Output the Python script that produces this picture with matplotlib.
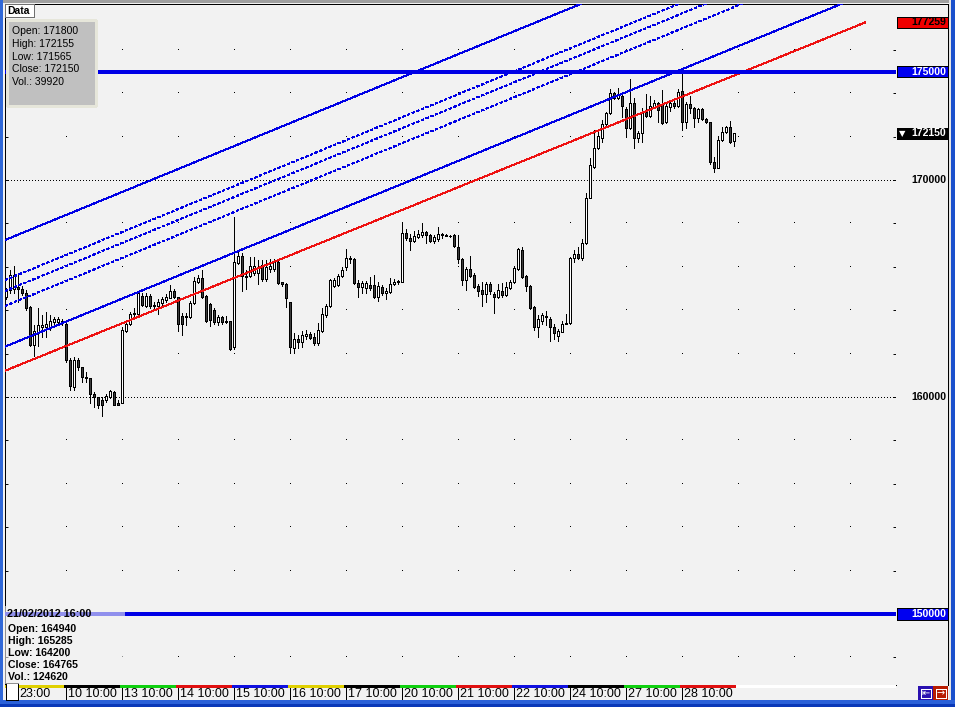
import matplotlib
matplotlib.use("Agg")
import matplotlib.pyplot as plt
from matplotlib.patches import Rectangle
import numpy as np

plt.rcParams['font.family'] = ['Liberation Sans', 'DejaVu Sans']
plt.rcParams['lines.antialiased'] = False
plt.rcParams['patch.antialiased'] = False

W, H = 955, 707
LW = 0.7  # one screen pixel

# hourly candles 9 Feb 2012 .. 28 Feb 2012 (14 bars per session, 10:00-23:00)
opens = [164610, 164930, 164980, 165070, 164980, 164790, 164150, 162400, 163000, 163230,
         163230, 163230, 163460, 163460, 163500, 163360, 161710, 160460, 161710, 161380,
         160920, 160880, 160140, 160000, 159860, 159860, 160000, 160230, 159720, 159720,
         163040, 163360, 163830, 163830, 164650, 164190, 164650, 164240, 164190, 164330,
         164470, 164560, 164890, 164610, 163730, 163690, 163690, 164330, 165300, 165480,
         164650, 164290, 164010, 163460, 163690, 163500, 163500, 162300, 166180, 166500,
         165580, 165580, 165710, 165710, 166080, 165440, 165900, 165900, 166220, 165300,
         165210, 164380, 162260, 162670, 162530, 162810, 162900, 162770, 162490, 163040,
         163780, 164190, 165120, 165160, 165580, 165990, 166360, 166360, 165250, 165070,
         165020, 165160, 165160, 164610, 165070, 164790, 164840, 165210, 165300, 165300,
         167560, 167330, 167190, 167370, 167470, 167600, 167470, 167190, 167280, 167510,
         167470, 167420, 167470, 166910, 166360, 165390, 165900, 165620, 165120, 164940,
         164750, 165210, 164750, 164610, 164890, 164700, 165020, 165300, 165900, 166770,
         165580, 165120, 164150, 163230, 163500, 163730, 163600, 163230, 162810, 163000,
         163410, 163410, 166410, 166590, 166410, 167100, 169170, 170600, 171470, 171940,
         172580, 173090, 174010, 173780, 173870, 173270, 172400, 173550, 171940, 172170,
         173130, 172950, 173360, 173550, 173500, 172670, 173360, 173550, 173410, 174100,
         172670, 173500, 173320, 172860, 173270, 172810, 172670, 170830, 170550, 171840,
         172210, 172440, 171800]
highs = [165020, 165850, 166040, 165620, 165120, 164930, 164190, 163320, 164100, 163780,
         163920, 163780, 163690, 163690, 163600, 163410, 161800, 161850, 161800, 161380,
         161150, 160880, 160230, 160000, 160000, 160140, 160320, 160280, 159860, 163230,
         163500, 163920, 164100, 164840, 164790, 164790, 164750, 164380, 164520, 164610,
         164750, 165160, 164980, 164610, 163870, 163870, 164420, 165530, 165620, 165850,
         164700, 164330, 164100, 163780, 163730, 163730, 163500, 168300, 166680, 166640,
         165850, 166450, 166450, 166310, 166310, 166310, 166360, 166360, 166270, 165300,
         165250, 164380, 162950, 162860, 163040, 163090, 163000, 162950, 163410, 164100,
         164290, 165440, 165480, 165670, 165990, 166820, 166500, 166410, 165390, 165350,
         165350, 165530, 165620, 165300, 165160, 165020, 165480, 165440, 165390, 168020,
         167740, 167510, 167650, 167700, 168000, 167650, 167510, 167470, 167830, 167560,
         167510, 167470, 167510, 167470, 166410, 165990, 166500, 165710, 165210, 165285,
         165300, 165300, 164840, 165210, 165250, 165300, 165390, 165990, 166870, 166910,
         165620, 165160, 164190, 163780, 163870, 163960, 163690, 163360, 163130, 163500,
         163830, 166450, 166770, 166910, 167280, 169400, 171010, 172300, 172210, 172770,
         173130, 174190, 174050, 174240, 174050, 173360, 174650, 173780, 172260, 173320,
         173960, 173870, 173690, 173600, 174150, 173600, 173690, 173780, 174190, 175070,
         173600, 173870, 173360, 173320, 173320, 172860, 172670, 171060, 172030, 172440,
         172490, 172720, 172155]
lows = [164520, 164790, 164790, 164380, 164700, 164010, 162350, 161890, 162350, 162770,
        162770, 163090, 163270, 163360, 163320, 161610, 160320, 160320, 161250, 160690,
        160690, 159720, 159540, 159490, 159130, 159770, 159950, 159630, 159630, 159720,
        163000, 163320, 163690, 163690, 164190, 164150, 164100, 164100, 163830, 164240,
        164380, 164560, 164560, 163040, 162860, 163320, 163640, 164290, 165250, 164560,
        163460, 163270, 163360, 163320, 163360, 163410, 162170, 162210, 166130, 164890,
        164980, 165530, 165620, 165210, 165350, 165350, 165760, 165800, 165210, 165120,
        164150, 162070, 162030, 162260, 162300, 162670, 162670, 162400, 162400, 163000,
        163690, 164150, 165070, 165120, 165530, 165850, 166180, 165210, 164610, 164790,
        164790, 164930, 164560, 164420, 164700, 164520, 164790, 165160, 165210, 165300,
        167240, 166770, 167140, 167330, 167370, 167100, 167140, 167100, 167190, 167330,
        167420, 167370, 166910, 166180, 165160, 164930, 165530, 165020, 164660, 164200,
        164380, 164750, 163870, 164560, 164610, 164650, 164980, 165250, 165850, 165480,
        164890, 164060, 163090, 162770, 163360, 163320, 162580, 162670, 162580, 163000,
        163360, 163360, 166220, 166360, 166310, 167050, 169170, 170550, 171430, 171750,
        172530, 173040, 173730, 173730, 172900, 171980, 172350, 171470, 171750, 171750,
        172900, 172900, 173320, 172670, 172580, 172630, 173160, 173320, 173360, 172300,
        172400, 173090, 172440, 172670, 172760, 172630, 170740, 170370, 170550, 171800,
        172170, 171710, 171565]
closes = [164930, 165620, 165620, 164980, 164790, 164100, 162400, 163040, 163320, 163320,
          163360, 163500, 163600, 163600, 163410, 161710, 160510, 161710, 161380, 160920,
          160880, 160140, 160000, 159630, 159630, 160050, 160280, 159630, 159630, 163090,
          163360, 163830, 163870, 164790, 164240, 164650, 164190, 164190, 164380, 164520,
          164610, 164890, 164610, 163360, 163360, 163730, 164330, 165350, 165480, 164610,
          163500, 163550, 163460, 163690, 163460, 163460, 162210, 166220, 166500, 165580,
          165530, 166040, 166040, 165950, 165440, 165990, 166040, 166220, 165250, 165210,
          164560, 162310, 162670, 162530, 162860, 162900, 162720, 162490, 163090, 163830,
          164190, 165390, 165390, 165580, 165850, 166410, 166410, 165250, 165070, 165250,
          165250, 165020, 164610, 165120, 164790, 164890, 165210, 165300, 165350, 167560,
          167330, 167190, 167420, 167510, 167600, 167470, 167190, 167370, 167510, 167470,
          167420, 167420, 166960, 166360, 165390, 165900, 165580, 165070, 164890, 164765,
          165210, 164890, 164610, 164930, 164700, 165070, 165300, 165950, 166820, 165530,
          165120, 164100, 163230, 163600, 163780, 163690, 163230, 162950, 163040, 163360,
          163360, 166410, 166590, 166410, 167100, 169170, 170690, 171470, 172030, 172580,
          173090, 174010, 173780, 173960, 173410, 172400, 173550, 171940, 172170, 173130,
          172950, 173410, 173550, 173230, 172630, 173410, 173550, 173410, 174050, 172670,
          173500, 173320, 172860, 173270, 172810, 172670, 170830, 170550, 171840, 172210,
          172440, 171750, 172150]

# first bar of each trading session (10:00) and its axis label
session_start = [15, 29, 43, 57, 71, 85, 99, 113, 127, 141, 155, 169]
session_labels = ['10 10:00', '13 10:00', '14 10:00', '15 10:00', '16 10:00', '17 10:00',
                  '20 10:00', '21 10:00', '22 10:00', '24 10:00', '27 10:00', '28 10:00']
first_label = '23:00'
day_colors = ['#e0d000', 'black', '#10d010', '#e01010', '#1010e0', '#e0d000', 'black',
              '#10d010', '#e01010', '#1010e0', 'black', '#10d010', '#e01010']

# drawn objects: (bar index, price) -> (bar index, price)
red_line = (-0.25, 161210, 214.75, 177259)
blue_solid = [(-0.25, 167235, 220, 183880), (-0.25, 162320, 220, 178960)]
blue_dashed = [(-0.25, 165390, 220, 182035), (-0.25, 164885, 220, 181530),
               (-0.25, 164195, 220, 180840)]
h_levels = [175000, 150000]
axis_labels = [170000, 160000]
last_price = 172150

info_top = ['Open: 171800', 'High: 172155', 'Low: 171565', 'Close: 172150', 'Vol.: 39920']
info_time = '21/02/2012 16:00'
info_bottom = ['Open: 164940', 'High: 165285', 'Low: 164200', 'Close: 164765', 'Vol.: 124620']

BG = '#f2f2f2'
BLUE = '#0000e6'


def rect(x0, y0, x1, y1):
    return [x0 / W, 1 - y1 / H, (x1 - x0) / W, (y1 - y0) / H]


fig = plt.figure(figsize=(W / 100, H / 100), dpi=100)
fig.patch.set_facecolor(BG)

XLIM = (-0.25, 222.5)
YLIM = (146728, 178111)

# ---- main price panel
ax = fig.add_axes(rect(5, 4, 896, 685))
ax.set_facecolor(BG)
ax.set_xlim(*XLIM)
ax.set_ylim(*YLIM)
ax.set_xticks([])
ax.set_yticks(np.arange(148000, 178000, 2000))
ax.tick_params(axis='y', direction='in', length=2.5, width=LW, left=True, right=True,
               labelleft=False, labelright=False)
for s in ax.spines.values():
    s.set_linewidth(LW)

# grid: dotted lines at labelled levels, dots at session / level crossings
for v in axis_labels:
    ax.axhline(v, color='black', lw=LW, ls=(0, (1, 3)), zorder=1)
gx = np.arange(session_start[0], XLIM[1], 14)
gy = [v for v in range(148000, 178000, 2000) if v not in axis_labels + h_levels]
GX, GY = np.meshgrid(gx, gy)
ax.plot(GX.ravel(), GY.ravel(), ',', color='black', zorder=1)

# candles
o, h, l, c = map(np.array, (opens, highs, lows, closes))
idx = np.arange(len(o))
up = c >= o
ax.vlines(idx, l, h, color='black', lw=LW, zorder=2)
ax.bar(idx, np.abs(c - o), bottom=np.minimum(o, c), width=0.5,
       color=np.where(up, 'white', '#3c3c3c'), edgecolor='black', linewidth=LW, zorder=3)

# channel lines
x0, p0, x1, p1 = red_line
ax.plot([x0, x1], [p0, p1], color='#ee1111', lw=LW, zorder=4)
for x0, p0, x1, p1 in blue_solid:
    ax.plot([x0, x1], [p0, p1], color=BLUE, lw=LW, zorder=4)
for x0, p0, x1, p1 in blue_dashed:
    ax.plot([x0, x1], [p0, p1], color=BLUE, lw=LW, ls=(0, (3, 3)), zorder=4)
for v in h_levels:
    ax.axhline(v, color=BLUE, lw=1.45, zorder=4)

# ---- price scale panel
rax = fig.add_axes(rect(896, 4, 948, 685))
rax.set_facecolor(BG)
rax.set_xlim(0, 52)
rax.set_ylim(*YLIM)
rax.set_xticks([])
rax.set_yticks([])
rax.spines['left'].set_visible(False)
rax.spines['bottom'].set_visible(False)
for s in ('top', 'right'):
    rax.spines[s].set_linewidth(LW)
lab = dict(ha='right', va='center', fontsize=7.6, fontweight='bold')
for v in axis_labels:
    rax.text(50, v, str(v), color='black', **lab)
box_h = 520
rax.add_patch(Rectangle((0.6, red_line[3] - box_h / 2), 51, box_h, fc='#f00000', ec='black', lw=LW))
rax.text(50, red_line[3], str(red_line[3]), color='black', **lab)
for v in h_levels:
    rax.add_patch(Rectangle((0.6, v - box_h / 2), 51, box_h, fc='#0000f0', ec='black', lw=LW))
    rax.text(50, v, str(v), color='white', **lab)
rax.add_patch(Rectangle((0.6, last_price - box_h / 2), 51, box_h, fc='black', ec='black', lw=LW))
rax.text(50, last_price, str(last_price), color='white', **lab)
rax.text(3, last_price, '\u25bc', color='white', ha='left', va='center', fontsize=6,
         family=['DejaVu Sans'])

# ---- time scale strip
strip = fig.add_axes(rect(5, 685, 896, 700))
strip.set_facecolor(BG)
strip.set_xlim(*XLIM)
strip.set_ylim(15, 0)
strip.axis('off')
starts = [XLIM[0]] + [s - 0.5 for s in session_start]
ends = starts[1:] + [session_start[-1] + 13.5]
strip.add_patch(Rectangle((XLIM[0], 0), XLIM[1] - XLIM[0], 15, fc=BG, ec='none'))
strip.hlines([1.3] * len(starts), starts, ends, colors=day_colors, lw=1.6)
strip.hlines(1.3, ends[-1], XLIM[1], colors='white', lw=1.6)
strip.vlines(session_start, 3, 15, color='black', lw=LW)
strip.text(3.3, 9.3, first_label, ha='left', va='center', fontsize=9)
for s, t in zip(session_start, session_labels):
    strip.text(s + 0.45, 9.3, t, ha='left', va='center', fontsize=9)

# ---- window chrome and info boxes (pixel coordinates)
ov = fig.add_axes([0, 0, 1, 1], zorder=10)
ov.set_xlim(0, W)
ov.set_ylim(H, 0)
ov.axis('off')
ov.patch.set_visible(False)

ov.add_patch(Rectangle((0, 0), W, 3.4, fc='#a0a0a0', ec='none'))
ov.add_patch(Rectangle((0, 0), 3.4, H, fc='#3068d8', ec='none'))
ov.add_patch(Rectangle((948.6, 0), 2.4, H, fc='#e4e4e4', ec='none'))
ov.add_patch(Rectangle((951, 0), 4, H, fc='#1a50cc', ec='none'))
ov.add_patch(Rectangle((0, 700), W, 3.5, fc='#2a60d8', ec='none'))
ov.add_patch(Rectangle((0, 703.5), W, 3.5, fc='#0a38b8', ec='none'))

# buttons
ov.add_patch(Rectangle((918, 686), 15, 14, fc='#2a10b0', ec='none'))
ov.add_patch(Rectangle((933, 686), 15, 14, fc='#b81c00', ec='none'))
ov.add_patch(Rectangle((920.5, 688.5), 10, 9, fc='none', ec='white', lw=LW))
ov.add_patch(Rectangle((935.5, 688.5), 10, 9, fc='none', ec='white', lw=LW))
ov.text(925.5, 693, '\u21e4', color='white', ha='center', va='center', fontsize=7,
        family=['DejaVu Sans'])
ov.text(940.5, 693, '\u2192', color='white', ha='center', va='center', fontsize=7,
        family=['DejaVu Sans'])
ov.add_patch(Rectangle((5.5, 682.5), 12.5, 17, fc='white', ec='black', lw=LW))

# top-left data box
ov.add_patch(Rectangle((4.8, 4.2), 29, 13, fc='white', ec='#707070', lw=LW))
ov.text(7, 10.8, 'Data', ha='left', va='center', fontsize=7.5, fontweight='bold')
ov.add_patch(Rectangle((6.5, 19.5), 89, 86.5, fc='#c0c0c0', ec='#e6e6da', lw=1))
for k, t in enumerate(info_top):
    ov.text(11.5, 31 + 12.8 * k, t, ha='left', va='center', fontsize=7.5)

# bottom-left hover box
ov.add_patch(Rectangle((5, 606), 120, 78, fc=BG, alpha=0.6, ec='none'))
ov.text(7, 614, info_time, ha='left', va='center', fontsize=7.8, fontweight='bold')
for k, t in enumerate(info_bottom):
    ov.text(7.5, 629.5 + 11.9 * k, t, ha='left', va='center', fontsize=7.6, fontweight='bold')

fig.savefig('out.png', dpi=100, facecolor=fig.get_facecolor())
